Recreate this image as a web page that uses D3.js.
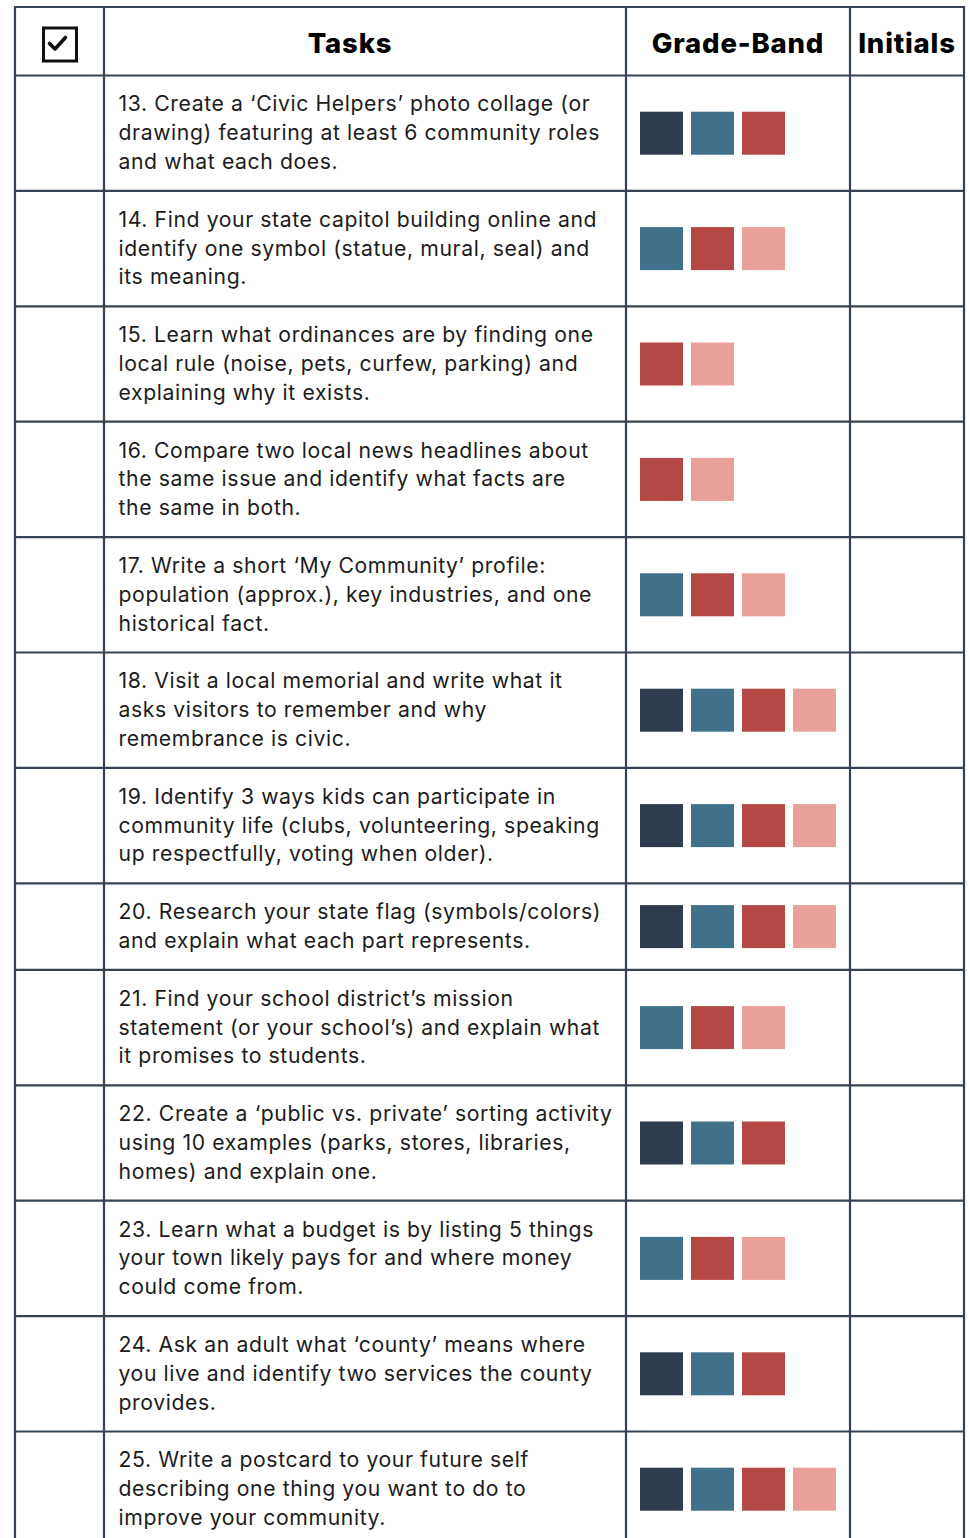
<!DOCTYPE html>
<html><head><meta charset="utf-8">
<script src="https://cdn.jsdelivr.net/npm/d3@7"></script>
<style>
html,body{margin:0;padding:0;background:#fff;}
svg{display:block;}
</style></head>
<body>
<svg id="chart" width="970" height="1538"></svg>
<script>
// ---- data ----
const columns = ["", "Tasks", "Grade-Band", "Initials"];
const bands = ["K-2", "3-5", "6-8", "9-12"];
const bandColors = ["#2e3c4e", "#41708a", "#b34844", "#e9a09b"];
const taskLines = [
  ["13. Create a \u2018Civic Helpers\u2019 photo collage (or", "drawing) featuring at least 6 community roles", "and what each does."],
  ["14. Find your state capitol building online and", "identify one symbol (statue, mural, seal) and", "its meaning."],
  ["15. Learn what ordinances are by finding one", "local rule (noise, pets, curfew, parking) and", "explaining why it exists."],
  ["16. Compare two local news headlines about", "the same issue and identify what facts are", "the same in both."],
  ["17. Write a short \u2018My Community\u2019 profile:", "population (approx.), key industries, and one", "historical fact."],
  ["18. Visit a local memorial and write what it", "asks visitors to remember and why", "remembrance is civic."],
  ["19. Identify 3 ways kids can participate in", "community life (clubs, volunteering, speaking", "up respectfully, voting when older)."],
  ["20. Research your state flag (symbols/colors)", "and explain what each part represents."],
  ["21. Find your school district\u2019s mission", "statement (or your school\u2019s) and explain what", "it promises to students."],
  ["22. Create a \u2018public vs. private\u2019 sorting activity", "using 10 examples (parks, stores, libraries,", "homes) and explain one."],
  ["23. Learn what a budget is by listing 5 things", "your town likely pays for and where money", "could come from."],
  ["24. Ask an adult what \u2018county\u2019 means where", "you live and identify two services the county", "provides."],
  ["25. Write a postcard to your future self", "describing one thing you want to do to", "improve your community."]
];
const taskBands = [
  ["K-2","3-5","6-8"],
  ["3-5","6-8","9-12"],
  ["6-8","9-12"],
  ["6-8","9-12"],
  ["3-5","6-8","9-12"],
  ["K-2","3-5","6-8","9-12"],
  ["K-2","3-5","6-8","9-12"],
  ["K-2","3-5","6-8","9-12"],
  ["3-5","6-8","9-12"],
  ["K-2","3-5","6-8"],
  ["3-5","6-8","9-12"],
  ["K-2","3-5","6-8"],
  ["K-2","3-5","6-8","9-12"]
];

// ---- layout ----
const svg = d3.select("#chart");
const colEdges = [15, 104, 626, 850, 964];
const headerOffset = [0, -15, 0, 0];
const tableTop = 7, headerH = 68.5;
const lineH = 28.8, pad = 14.5;
const fontBody = "'Inter', 'Noto Sans', sans-serif";
const lineColor = "#354254";

const rows = taskLines.map((lines, i) => ({lines, bands: taskBands[i], h: lines.length * lineH + pad * 2}));
let yAcc = tableTop + headerH;
rows.forEach(r => { r.y = yAcc; yAcc += r.h; });
const tableBottom = yAcc;

const color = d3.scaleOrdinal().domain(bands).range(bandColors);
const sq = 43, gap = 8;
const xSlot = d3.scaleBand().domain(d3.range(4))
  .range([640, 640 + (sq + gap) * 4 - gap]).paddingInner(gap / (sq + gap)).paddingOuter(0).align(0);

// header text
const headerG = svg.append("g");
columns.forEach((c, i) => {
  if (!c) return;
  headerG.append("text")
    .attr("x", (colEdges[i] + colEdges[i + 1]) / 2 + headerOffset[i])
    .attr("y", tableTop + 45.5)
    .attr("text-anchor", "middle")
    .attr("font-family", fontBody)
    .attr("font-weight", 800)
    .attr("font-size", 27.5)
    .attr("letter-spacing", 0.8)
    .attr("fill", "#000")
    .text(c);
});

// checkbox icon
const cb = svg.append("g");
cb.append("rect").attr("x", 43.5).attr("y", 28).attr("width", 33).attr("height", 33)
  .attr("fill", "none").attr("stroke", "#111").attr("stroke-width", 3);
cb.append("path").attr("d", "M49.5,43.5 L55,49 L65.5,37.5")
  .attr("fill", "none").attr("stroke", "#111").attr("stroke-width", 3.6)
  .attr("stroke-linecap", "round").attr("stroke-linejoin", "round");

// rows
const rowG = svg.selectAll("g.row").data(rows).join("g").attr("class", "row");
rowG.each(function (r) {
  const g = d3.select(this);
  g.selectAll("text").data(r.lines).join("text")
    .attr("x", 118.5)
    .attr("y", (d, j) => r.y + pad + lineH * j + lineH / 2 + 7)
    .attr("font-family", fontBody)
    .attr("font-size", 21.2)
    .attr("letter-spacing", 0.6)
    .attr("fill", "#1c1c1c")
    .text(d => d);
  g.selectAll("rect").data(r.bands).join("rect")
    .attr("x", (d, j) => xSlot(j))
    .attr("y", r.y + r.h / 2 - sq / 2)
    .attr("width", sq).attr("height", sq)
    .attr("fill", d => color(d));
});

// grid lines
const grid = svg.append("g").attr("stroke", lineColor).attr("stroke-width", 2.2).attr("fill", "none");
const hLines = [tableTop, tableTop + headerH].concat(rows.map(r => r.y + r.h));
grid.selectAll("line.h").data(hLines).join("line").attr("class", "h")
  .attr("x1", colEdges[0] - 1).attr("x2", colEdges[4] + 1)
  .attr("y1", d => d).attr("y2", d => d);
grid.selectAll("line.v").data(colEdges).join("line").attr("class", "v")
  .attr("x1", d => d).attr("x2", d => d)
  .attr("y1", tableTop - 1).attr("y2", tableBottom + 1);
</script>
</body></html>
